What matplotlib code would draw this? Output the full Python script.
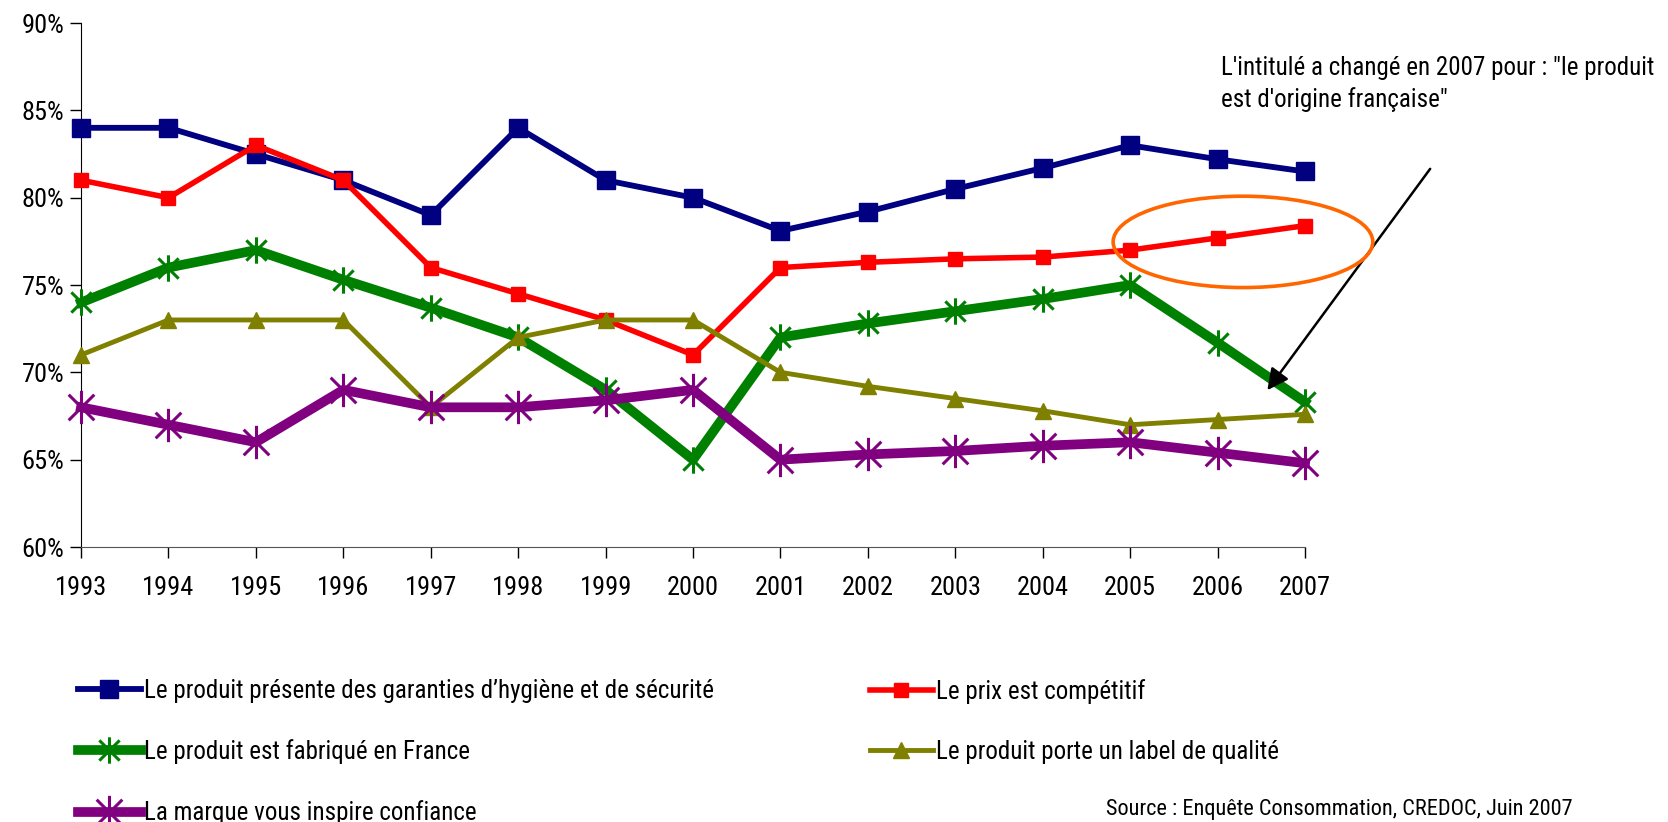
import numpy as np
import matplotlib
matplotlib.use('Agg')
import matplotlib.pyplot as plt
from matplotlib.path import Path
from matplotlib.patches import Ellipse

plt.rcParams['font.family'] = ['Roboto Condensed', 'Liberation Sans', 'DejaVu Sans']

# ---- data ----
years = list(range(1993, 2008))

hygiene = [84, 84, 82.5, 81, 79, 84, 81, 80, 78.1, 79.2, 80.5, 81.7, 83, 82.2, 81.5]
prix = [81, 80, 83, 81, 76, 74.5, 73, 71, 76, 76.3, 76.5, 76.6, 77, 77.7, 78.4]
france = [74, 76, 77, 75.3, 73.7, 72, 69, 65, 72, 72.8, 73.5, 74.2, 75, 71.7, 68.3]
label = [71, 73, 73, 73, 68, 72, 73, 73, 70, 69.2, 68.5, 67.8, 67, 67.3, 67.6]
marque = [68, 67, 66, 69, 68, 68, 68.4, 69, 65, 65.3, 65.5, 65.8, 66, 65.4, 64.8]

names = ["Le produit présente des garanties d\u2019hygiène et de sécurité",
         "Le prix est compétitif",
         "Le produit est fabriqué en France",
         "Le produit porte un label de qualité",
         "La marque vous inspire confiance"]

y_ticks = [60, 65, 70, 75, 80, 85, 90]

note = "L'intitulé a changé en 2007 pour : \"le produit\nest d'origine française\""
source = "Source : Enquête Consommation, CREDOC, Juin 2007"

# excel style asterisk: x + vertical bar
star = Path([(-1, -1), (1, 1), (-1, 1), (1, -1), (0, -1.3), (0, 1.3)],
            [Path.MOVETO, Path.LINETO, Path.MOVETO, Path.LINETO, Path.MOVETO, Path.LINETO])

fig = plt.figure(figsize=(16.68, 8.22), dpi=100)
ax = fig.add_axes([0.0486, 0.3345, 0.7338, 0.6375])

styles = [
    dict(color='#000080', lw=4.2, marker='s', ms=13, mec='#000080', mfc='#000080'),
    dict(color='#FF0000', lw=4, marker='s', ms=10, mec='#FF0000', mfc='#FF0000'),
    dict(color='#008000', lw=7, marker=star, ms=19, mew=2.2, mec='#008000'),
    dict(color='#808000', lw=3.5, marker='^', ms=12, mec='#808000', mfc='#808000'),
    dict(color='#800080', lw=7, marker=star, ms=24, mew=2.2, mec='#800080'),
]
series = [hygiene, prix, france, label, marque]

handles = []
for vals, st, nm in zip(series, styles, names):
    h, = ax.plot(years, vals, label=nm, clip_on=False, zorder=3, **st)
    handles.append(h)

ax.set_xlim(1993, 2007)
ax.set_ylim(60, 90)
ax.set_xticks(years)
ax.set_xticklabels([str(y) for y in years])
ax.set_yticks(y_ticks)
ax.set_yticklabels(['%d%%' % v for v in y_ticks])
ax.tick_params(axis='both', labelsize=19, length=8, width=1, direction='out')
ax.tick_params(axis='x', pad=13)
ax.tick_params(axis='y', pad=4)
for s in ['top', 'right']:
    ax.spines[s].set_visible(False)
ax.spines['bottom'].set_color('#555555')

# annotation: ellipse, arrow, note
ax.add_patch(Ellipse((2006.29, 77.47), 2.97, 5.23, fill=False, ec='#FF6600', lw=2.6,
                     clip_on=False, zorder=4))
ax.annotate('', xy=(2006.55, 68.85), xytext=(2008.45, 81.78),
            arrowprops=dict(arrowstyle='-|>', color='black', lw=1.8, mutation_scale=32),
            annotation_clip=False)
fig.text(1221 / 1668, 1 - 56 / 822, note, fontsize=18, va='top', ha='left', linespacing=1.35)

# legend in two columns
kw = dict(frameon=False, fontsize=18, handlelength=2.5, handletextpad=0.15,
          labelspacing=1.45, borderpad=0, borderaxespad=0)
fig.legend([handles[0], handles[2], handles[4]], [names[0], names[2], names[4]],
           loc='upper left', bbox_to_anchor=(78 / 1668, 1 - 679 / 822), **kw)
fig.legend([handles[1], handles[3]], [names[1], names[3]],
           loc='upper left', bbox_to_anchor=(870 / 1668, 1 - 679 / 822), **kw)

fig.text(1106 / 1668, 0.002, source, fontsize=16, va='bottom', ha='left')

fig.savefig('out.png', dpi=100)
